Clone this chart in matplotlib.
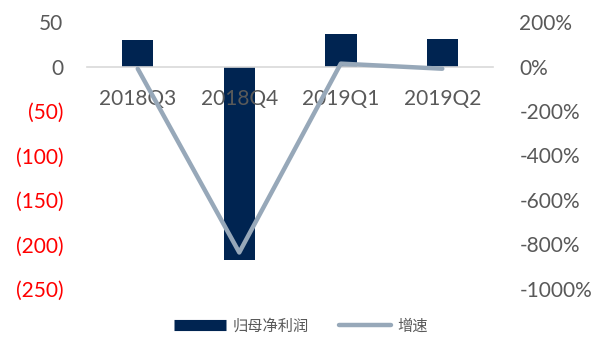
import matplotlib
matplotlib.use("Agg")
import matplotlib.pyplot as plt
from matplotlib.lines import Line2D

plt.rcParams["font.family"] = ["Lato", "Noto Sans CJK SC", "DejaVu Sans"]

quarters = ["2018Q3", "2018Q4", "2019Q1", "2019Q2"]
net_profit = [30, -218, 36, 31]          # 归母净利润
growth_pct = [-10, -836, 13, -10]        # 增速 (%)

left_ticks = [50, 0, -50, -100, -150, -200, -250]
right_ticks = [200, 0, -200, -400, -600, -800, -1000]

BAR_COLOR = "#002451"
LINE_COLOR = "#97A8B9"
TEXT_GRAY = "#595959"

fig = plt.figure(figsize=(6.02, 3.44), dpi=100)
ax = fig.add_axes([0.1445, 0.160, 0.6745, 0.776])
ax2 = ax.twinx()

x = range(len(quarters))
ax.bar(x, net_profit, width=0.31, color=BAR_COLOR, zorder=2)
ax2.plot(x, growth_pct, color=LINE_COLOR, linewidth=3.2, solid_capstyle="round", zorder=3)

ax.set_xlim(-0.5, len(quarters) - 0.5)
ax.set_ylim(-250, 50)
ax2.set_ylim(-1000, 200)

# category axis sits on the zero line, labels drawn over the bars
ax.set_axisbelow(False)
ax.spines["bottom"].set_position(("data", 0))
ax.spines["bottom"].set_color("#D9D9D9")
ax.spines["bottom"].set_linewidth(1.2)
for s in ["top", "left", "right"]:
    ax.spines[s].set_visible(False)
for s in ["top", "left", "right", "bottom"]:
    ax2.spines[s].set_visible(False)

ax.set_xticks(list(x))
ax.set_xticklabels(quarters, fontsize=15, color=TEXT_GRAY)
ax.tick_params(axis="x", length=0, pad=16)

ax.set_yticks(left_ticks)
ax.set_yticklabels([f"({-v})" if v < 0 else f"{v}" for v in left_ticks], fontsize=15)
for lbl, v in zip(ax.get_yticklabels(), left_ticks):
    lbl.set_color("red" if v < 0 else TEXT_GRAY)
ax.tick_params(axis="y", length=0, pad=17)

ax2.set_yticks(right_ticks)
ax2.set_yticklabels([f"{v}%" for v in right_ticks], fontsize=15, color=TEXT_GRAY)
ax2.tick_params(axis="y", length=0, pad=19)

handles = [
    Line2D([], [], color=BAR_COLOR, linewidth=8, solid_capstyle="butt"),
    Line2D([], [], color=LINE_COLOR, linewidth=3.2, solid_capstyle="round"),
]
leg = fig.legend(handles, ["归母净利润", "增速"], loc="lower center",
                 bbox_to_anchor=(0.5, -0.01), ncol=2, frameon=False,
                 fontsize=11, handlelength=3.4, columnspacing=2.0, handletextpad=0.4)
for t in leg.get_texts():
    t.set_color(TEXT_GRAY)

fig.savefig("out.png", dpi=100)
